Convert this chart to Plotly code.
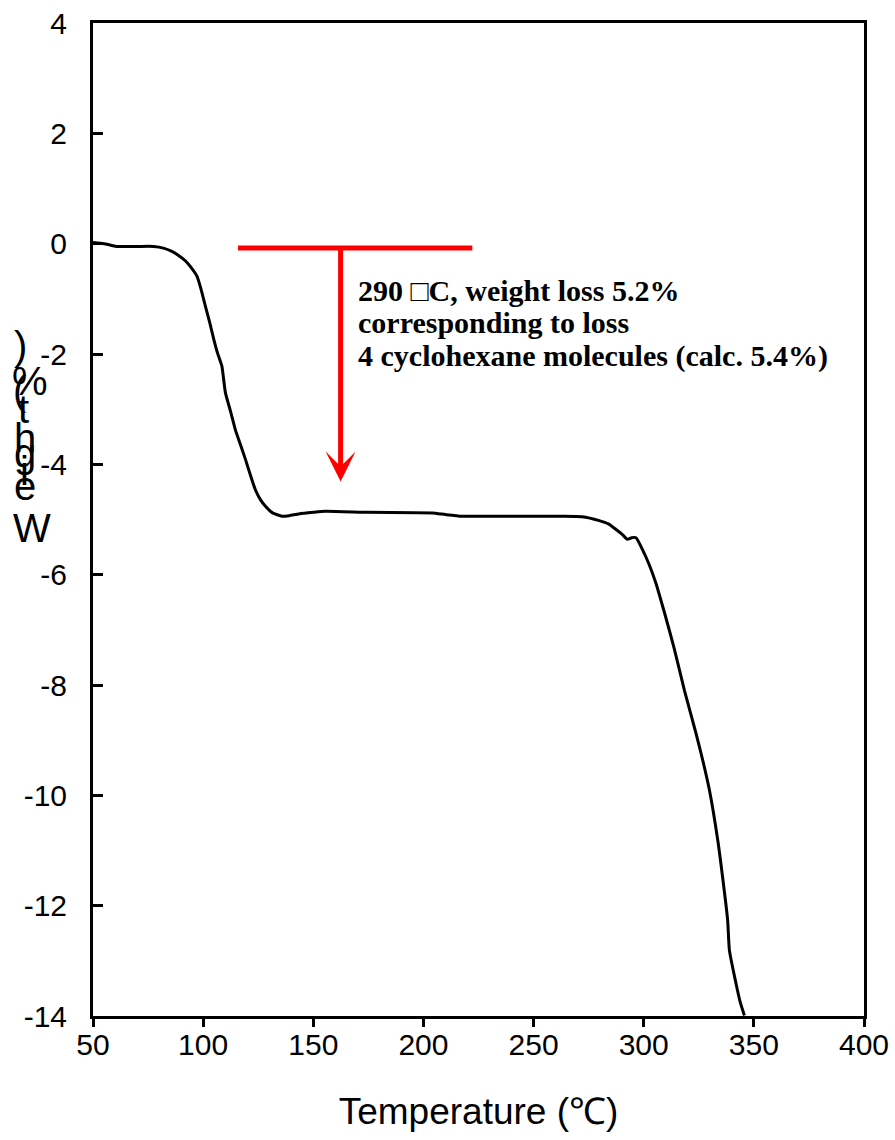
import plotly.graph_objects as go

# TGA curve (temperature in °C, weight change in %)
temperature = [50, 55, 60.7, 70, 77.5, 82, 85.8, 89, 91.9, 94.5, 97.2, 99, 101, 103, 104.8,
               106.5, 108.5, 110.1, 112.5, 114.6, 117, 119.2, 121.5, 123.7, 126,
               128.3, 131.5, 135.8, 139, 143.4, 150, 155.5, 175, 204, 210, 217.6,
               263, 272, 279.8, 284, 287.4, 290, 292.6, 294.5, 296.5, 299.5, 302.5,
               305.5, 309.5, 313.8, 318.5, 323.7, 327, 329.8, 333.6, 335.8, 338.1,
               338.9, 341.9, 343.8, 345.7]
weight = [0.02, 0.0, -0.05, -0.05, -0.05, -0.08, -0.14, -0.22, -0.31, -0.43, -0.59, -0.82,
          -1.13, -1.43, -1.73, -1.98, -2.22, -2.70, -3.05, -3.37, -3.65, -3.91, -4.20,
          -4.46, -4.64, -4.76, -4.88, -4.94, -4.93, -4.90, -4.87, -4.85, -4.87, -4.88,
          -4.91, -4.94, -4.94, -4.95, -5.02, -5.08, -5.18, -5.26, -5.36, -5.33, -5.33,
          -5.55, -5.82, -6.15, -6.70, -7.33, -8.10, -8.87, -9.40, -9.90, -10.81,
          -11.48, -12.26, -12.81, -13.41, -13.75, -13.99]

# annotation elements
bracket_x = [115.8, 222.2]
bracket_y = [-0.08, -0.08]
arrow_x = 162.4
arrow_tip_y = -4.31
note_lines = ["290 \u25a1C, weight loss 5.2%",
              "corresponding to loss",
              "4 cyclohexane molecules (calc. 5.4%)"]

x_ticks = [50, 100, 150, 200, 250, 300, 350, 400]
y_ticks = [4, 2, 0, -2, -4, -6, -8, -10, -12, -14]
y_ticktext = [str(v) for v in y_ticks]

fig = go.Figure()
fig.add_trace(go.Scatter(x=temperature, y=weight, mode="lines",
                         line=dict(color="black", width=3, shape="spline", smoothing=0.5),
                         showlegend=False))
fig.add_trace(go.Scatter(x=bracket_x, y=bracket_y, mode="lines",
                         line=dict(color="#ff0000", width=5), showlegend=False))

annotations = []
annotations.append(dict(x=arrow_x, y=arrow_tip_y, ax=arrow_x, ay=bracket_y[0],
                        xref="x", yref="y", axref="x", ayref="y", text="",
                        showarrow=True, arrowhead=3, arrowsize=1.0, arrowwidth=5,
                        arrowcolor="#ff0000"))
note_y = [-0.85, -1.43, -2.03]
for line, yy in zip(note_lines, note_y):
    annotations.append(dict(x=169.2, y=yy, xref="x", yref="y", text="<b>%s</b>" % line,
                            showarrow=False, xanchor="left", yanchor="middle",
                            font=dict(family="Liberation Serif", size=30, color="black")))

# stacked y-axis title characters (bottom to top), pixel positions
ytitle_chars = ["W", "e", "i", "g", "h", "t", "(", "%", ")"]
ytitle_base_px = [542, 500, 485, 467, 452, 423, 405, 395, 360]
ytitle_x_px = [32, 25, 24, 25, 25, 23, 20, 30, 20]
L, R, T, B = 93, 31, 23, 124
W, H = 895, 1140
pw, ph = W - L - R, H - T - B
F = 40
for ch, by, bx in zip(ytitle_chars, ytitle_base_px, ytitle_x_px):
    cy = by - 0.35 * F
    annotations.append(dict(x=(bx - L) / pw, y=(T + ph - cy) / ph, xref="paper", yref="paper",
                            text=ch, showarrow=False, xanchor="center", yanchor="middle",
                            font=dict(family="Liberation Sans", size=F, color="black")))

fig.update_layout(
    width=W, height=H,
    margin=dict(l=L, r=R, t=T, b=B, autoexpand=False),
    paper_bgcolor="white", plot_bgcolor="white",
    font=dict(family="Liberation Sans", color="black"),
    annotations=annotations,
    xaxis=dict(range=[50, 400], tickvals=x_ticks, showgrid=False, zeroline=False,
               showline=True, linecolor="black", linewidth=3, mirror=True,
               ticks="outside", ticklen=8, tickwidth=3, tickcolor="black",
               tickfont=dict(size=30), automargin=False, ticklabelstandoff=-8,
               title=dict(text="Temperature (\u2103)", font=dict(size=37), standoff=39)),
    yaxis=dict(range=[-14, 4], tickvals=y_ticks, ticktext=y_ticktext, showgrid=False,
               zeroline=False, showline=True, linecolor="black", linewidth=3, mirror=True,
               ticks="inside", ticklen=10, tickwidth=3, tickcolor="black",
               tickfont=dict(size=30), automargin=False, ticklabelstandoff=17),
)

fig.write_html("out.html", config={"displayModeBar": False},
               post_script="document.body.style.margin='0';document.body.style.overflow='hidden';")
